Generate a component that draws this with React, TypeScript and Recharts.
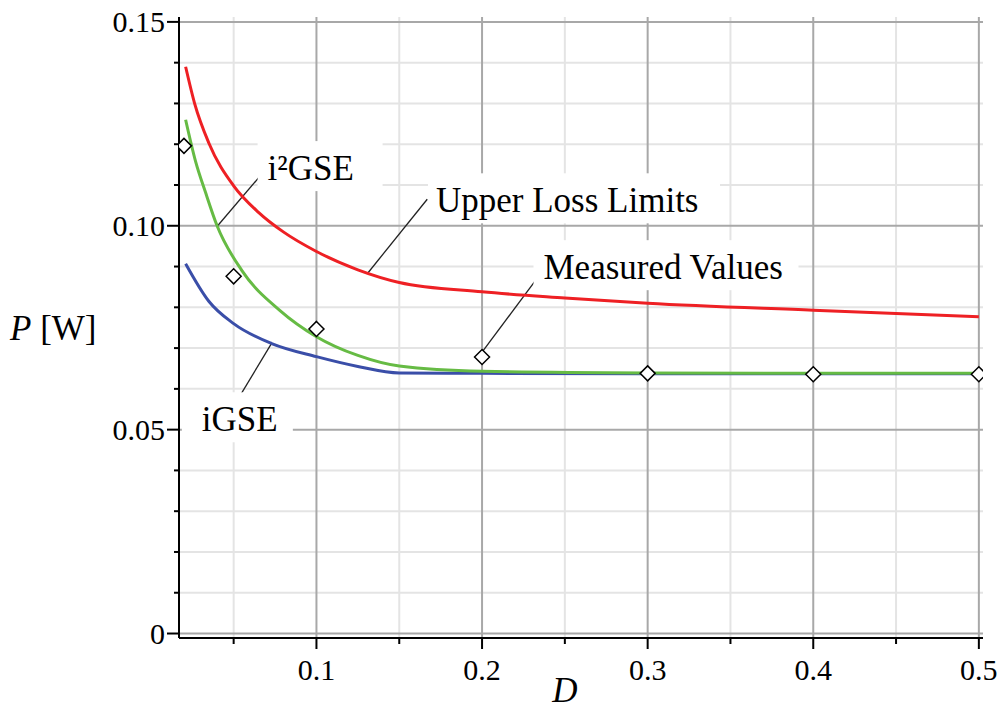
import { CartesianGrid, ComposedChart, Line, ReferenceDot, ReferenceLine, Scatter, XAxis, YAxis } from "recharts";

// Upper Loss Limits (red)
const upperD = [0.021, 0.0265, 0.035, 0.05, 0.065, 0.08, 0.1, 0.125, 0.15, 0.2, 0.25, 0.3, 0.4, 0.5];
const upperP = [0.139, 0.1299, 0.1203, 0.1098, 0.1033, 0.0985, 0.0937, 0.0892, 0.0861, 0.0838, 0.0823, 0.081, 0.0793, 0.0777];

// i²GSE (green)
const i2gseD = [0.021, 0.027, 0.033, 0.04, 0.055, 0.078, 0.1, 0.125, 0.15, 0.2, 0.3, 0.4, 0.5];
const i2gseP = [0.126, 0.1158, 0.1082, 0.1, 0.089, 0.0792, 0.0728, 0.0682, 0.0656, 0.0643, 0.0639, 0.0638, 0.0638];

// iGSE (blue)
const igseD = [0.021, 0.035, 0.05, 0.073, 0.1, 0.125, 0.15, 0.2, 0.3, 0.4, 0.5];
const igseP = [0.0907, 0.0815, 0.076, 0.0711, 0.0679, 0.0655, 0.0639, 0.0638, 0.0637, 0.0637, 0.0637];

// Measured Values (diamonds)
const measD = [0.02, 0.05, 0.1, 0.2, 0.3, 0.4, 0.5];
const measP = [0.1196, 0.0876, 0.0747, 0.0678, 0.0638, 0.0636, 0.0636];

const xMajor = [0.1, 0.2, 0.3, 0.4, 0.5];
const xMajorLabels = ["0.1", "0.2", "0.3", "0.4", "0.5"];
const xMinor = [0.05, 0.15, 0.25, 0.35, 0.45];
const yMajor = [0, 0.05, 0.1, 0.15];
const yMajorLabels = ["0", "0.05", "0.10", "0.15"];
const yMinor = [0.01, 0.02, 0.03, 0.04, 0.06, 0.07, 0.08, 0.09, 0.11, 0.12, 0.13, 0.14];

const xDomain = [0.017, 0.5025];
const yDomain = [-0.0011, 0.1512];

const zip = (ds: number[], ps: number[]) => ds.map((d, i) => ({ d, p: ps[i] }));
const upperData = zip(upperD, upperP);
const i2gseData = zip(i2gseD, i2gseP);
const igseData = zip(igseD, igseP);
const measData = zip(measD, measP);

const notes = [
  { text: "i²GSE", at: [0.0705, 0.1112], line: [[0.0397, 0.0997], [0.0687, 0.1135]], padL: 10, w: 125 },
  { text: "Upper Loss Limits", at: [0.1722, 0.1033], line: [[0.1308, 0.0883], [0.1669, 0.1065]], padL: 8, w: 292 },
  { text: "Measured Values", at: [0.2371, 0.0869], line: [[0.2, 0.069], [0.2341, 0.0876]], padL: 10, w: 265 },
  { text: "iGSE", at: [0.0308, 0.0496], line: [[0.0728, 0.0711], [0.0537, 0.0582]], padL: 20, w: 111 },
];

const SERIF = "Liberation Serif, Times New Roman, serif";
const near = (arr: number[], v: number) => arr.findIndex((a) => Math.abs(a - v) < 1e-6);

function XTick(props: any) {
  const { x, y, payload } = props;
  const i = near(xMajor, payload.value);
  if (i < 0) return <line x1={x} y1={y} x2={x} y2={y + 6} stroke="#000" strokeWidth={2} />;
  return (
    <g>
      <line x1={x} y1={y} x2={x} y2={y + 11} stroke="#000" strokeWidth={2} />
      <text x={x} y={y + 42} textAnchor="middle" fontSize={30} fontFamily={SERIF} fill="#000">
        {xMajorLabels[i]}
      </text>
    </g>
  );
}

function YTick(props: any) {
  const { x, y, payload } = props;
  const i = near(yMajor, payload.value);
  if (i < 0) return <line x1={x} y1={y} x2={x - 5} y2={y} stroke="#000" strokeWidth={2} />;
  return (
    <g>
      <line x1={x} y1={y} x2={x - 12} y2={y} stroke="#000" strokeWidth={2} />
      <text x={x - 14} y={y + 10} textAnchor="end" fontSize={30} fontFamily={SERIF} fill="#000">
        {yMajorLabels[i]}
      </text>
    </g>
  );
}

function Diamond(props: any) {
  const { cx, cy } = props;
  const r = 7.5;
  return (
    <polygon
      points={`${cx},${cy - r} ${cx + r},${cy} ${cx},${cy + r} ${cx - r},${cy}`}
      fill="#fff"
      stroke="#000"
      strokeWidth={1.5}
    />
  );
}

const noteShape = (note: (typeof notes)[number]) => (props: any) => {
  const { cx, cy } = props;
  return (
    <g>
      <rect x={cx - note.padL} y={cy - 39} width={note.w} height={50} fill="#fff" />
      <text x={cx} y={cy} fontSize={35} fontFamily={SERIF} fill="#000">
        {note.text}
      </text>
    </g>
  );
};

export default function App() {
  const axisLine = { stroke: "#000", strokeWidth: 2 };
  return (
    <div style={{ position: "absolute", left: 0, top: 0, width: 997, height: 709, background: "#fff" }}>
      <ComposedChart width={997} height={709} margin={{ top: 17, right: 14, bottom: 0, left: 0 }}>
        <CartesianGrid verticalValues={xMinor} horizontalValues={yMinor} stroke="#e4e4e4" strokeWidth={2} />
        <CartesianGrid verticalValues={xMajor} horizontalValues={yMajor} stroke="#a8a8a8" strokeWidth={2} />
        <XAxis
          dataKey="d"
          type="number"
          domain={xDomain}
          allowDataOverflow
          ticks={[...xMinor, ...xMajor].sort((a, b) => a - b)}
          interval={0}
          tickSize={0}
          tickMargin={0}
          tickLine={false}
          tick={<XTick />}
          axisLine={axisLine}
          height={71}
          label={{
            content: () => (
              <text x={565} y={702} textAnchor="middle" fontSize={35} fontStyle="italic" fontFamily={SERIF} fill="#000">
                D
              </text>
            ),
          }}
        />
        <XAxis xAxisId="top" orientation="top" type="number" domain={xDomain} height={0} tick={false} tickLine={false} axisLine={axisLine} />
        <YAxis
          dataKey="p"
          type="number"
          domain={yDomain}
          allowDataOverflow
          ticks={[...yMinor, ...yMajor].sort((a, b) => a - b)}
          interval={0}
          tickSize={0}
          tickMargin={0}
          tickLine={false}
          tick={<YTick />}
          axisLine={axisLine}
          width={179}
          label={{
            content: () => (
              <text x={10} y={340} fontSize={35} fontFamily={SERIF} fill="#000">
                <tspan fontStyle="italic">P</tspan>
                <tspan> [W]</tspan>
              </text>
            ),
          }}
        />
        <YAxis yAxisId="right" orientation="right" type="number" domain={yDomain} width={0} tick={false} tickLine={false} axisLine={axisLine} />

        {notes.map((n) => (
          <ReferenceLine
            key={"l" + n.text}
            segment={[
              { x: n.line[0][0], y: n.line[0][1] },
              { x: n.line[1][0], y: n.line[1][1] },
            ]}
            stroke="#222"
            strokeWidth={1.3}
          />
        ))}
        {notes.map((n) => (
          <ReferenceDot key={"t" + n.text} x={n.at[0]} y={n.at[1]} r={0} shape={noteShape(n)} />
        ))}

        <Line data={upperData} dataKey="p" type="monotone" stroke="#ee2024" strokeWidth={3} dot={false} activeDot={false} isAnimationActive={false} />
        <Line data={igseData} dataKey="p" type="monotone" stroke="#3a4ea8" strokeWidth={3} dot={false} activeDot={false} isAnimationActive={false} />
        <Line data={i2gseData} dataKey="p" type="monotone" stroke="#66bb44" strokeWidth={3} dot={false} activeDot={false} isAnimationActive={false} />
        <Scatter data={measData} dataKey="p" shape={<Diamond />} isAnimationActive={false} />
      </ComposedChart>
    </div>
  );
}
